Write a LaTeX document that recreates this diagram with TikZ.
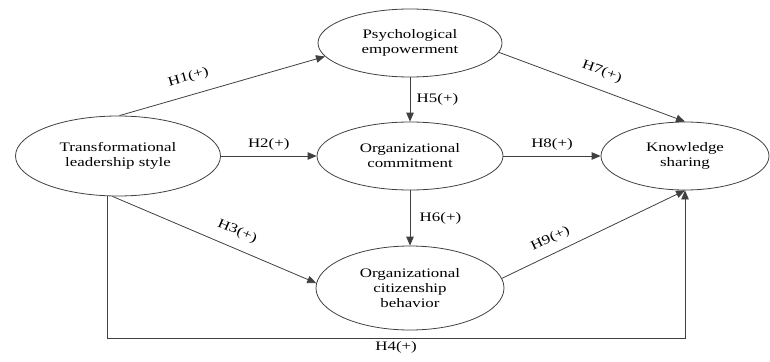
\documentclass[tikz,border=0pt]{standalone}
\usepackage{fontspec}
\setmainfont[FakeStretch=1.3]{Liberation Serif}
\usetikzlibrary{shapes.geometric,arrows.meta}
\newcommand{\drawell}{\node[draw=black!75,line width=0.8pt,ellipse,inner sep=0,align=center]}
\newcommand{\hyp}[1]{H#1(+)}

\begin{document}
\begin{tikzpicture}[x=1pt, y=-1pt, font=\fontsize{13}{15}\selectfont,
  line width=0.8pt, draw=black!75, >={Triangle[length=9pt,width=7.5pt]}]
\useasboundingbox (0,0) rectangle (770,361);
%research model
\drawell (tls) at (118,156) [minimum width=205pt, minimum height=80pt] {Transformational\\leadership style};
\drawell (pe) at (410,43) [minimum width=184pt, minimum height=68pt] {Psychological\\empowerment};
\drawell (oc) at (410,156) [minimum width=186pt, minimum height=68pt] {Organizational\\commitment};
\drawell (ocb) at (410,288) [minimum width=188pt, minimum height=84pt] {Organizational\\citizenship\\behavior};
\drawell (ks) at (685,156) [minimum width=168pt, minimum height=68pt] {Knowledge\\sharing};
\coordinate (h4) at (ks.south |- 0,338);

\draw[->] (tls.88) to node [sloped, above=8pt, pos=0.36] {\hyp{1}} (pe.189);
\draw[->] (tls.east) to node [above=2pt, midway] {\hyp{2}} (oc.west);
\draw[->] (tls.262) to node [sloped, above=7pt, pos=0.58] {\hyp{3}} (ocb.177);
\draw[->] (tls.255) |- node [below, pos=0.75] {\hyp{4}} (h4) -- (ks.south);
\draw[->] (pe.south) to node [right=3pt, midway] {\hyp{5}} (oc.north);
\draw[->] (oc.south) to node [right=6pt, midway] {\hyp{6}} (ocb.north);
\draw[->] (pe.-6) to node [sloped, above=8pt, pos=0.52] {\hyp{7}} (ks.north);
\draw[->] (oc.east) to node [above=2pt, midway] {\hyp{8}} (ks.west);
\draw[->] (ocb.6) to node [sloped, above=5pt, pos=0.3] {\hyp{9}} (ks.south);
\end{tikzpicture}
\end{document}
